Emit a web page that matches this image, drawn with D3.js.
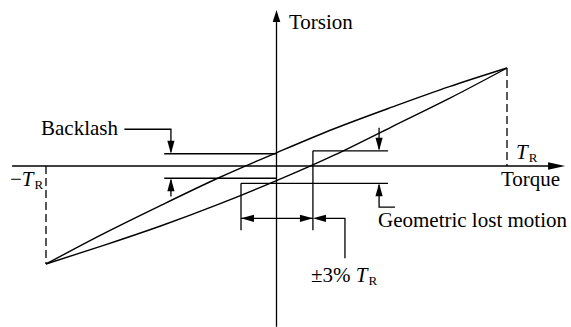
<!DOCTYPE html>
<html>
<head>
<meta charset="utf-8">
<script src="https://cdn.jsdelivr.net/npm/d3@7"></script>
<style>
  html, body { margin: 0; padding: 0; background: #fff; }
  svg text { font-family: "Liberation Serif", "Times New Roman", serif; fill: #000; }
</style>
</head>
<body>
<svg id="chart" width="571" height="327"></svg>
<script>
// Torque (normalised to rated torque T_R) and torsion (normalised to torsion at T_R)
const torque = [-1, -0.75, -0.5, -0.25, 0, 0.25, 0.5, 0.75, 1];
const torsionUpper = [-1, -0.69, -0.40, -0.12, 0.135, 0.38, 0.60, 0.81, 1];
const torsionLower = [-1, -0.81, -0.61, -0.39, -0.15, 0.11, 0.40, 0.69, 1];

// Reference levels and offsets used by the annotations (same normalised units)
const backlashLevels = [0.125, -0.125];
const lostMotionLevels = [0.155, -0.177];
const threePercentTorque = [-0.154, 0.158];

const labels = {
  yAxis: "Torsion",
  xAxis: "Torque",
  backlash: "Backlash",
  lostMotion: "Geometric lost motion",
  rated: "T",
  ratedSub: "R",
  percent: "±3% "
};

const svg = d3.select("#chart");
const x = d3.scaleLinear().domain([-1, 1]).range([46, 507]);
const y = d3.scaleLinear().domain([-1, 1]).range([264, 68]);

const g = svg.append("g").attr("fill", "none").attr("stroke", "#000").attr("stroke-width", 1.3);

function seg(x1, y1, x2, y2, extra) {
  const l = g.append("line")
    .attr("x1", x(x1)).attr("y1", y(y1))
    .attr("x2", x(x2)).attr("y2", y(y2));
  if (extra) extra(l);
  return l;
}
function poly(pts) {
  g.append("path").attr("d", d3.line().x(d => x(d[0])).y(d => y(d[1]))(pts));
}
// filled arrow head with its tip at (tx, ty) in data units, pointing along (dx, dy) in screen space
function head(tx, ty, dx, dy, len = 13, half = 3.6) {
  const px = x(tx), py = y(ty);
  const bx = px - dx * len, by = py - dy * len;
  const nx = -dy, ny = dx;
  svg.append("path")
    .attr("d", `M${px},${py}L${bx + nx * half},${by + ny * half}L${bx - nx * half},${by - ny * half}Z`)
    .attr("fill", "#000");
}

// axes
seg(-1.147, 0, 1.19, 0);
head(1.252, 0, 1, 0, 17, 3.8);
seg(0, -1.64, 0, 1.50);
head(0, 1.592, 0, -1, 12, 3.8);

// rated torque markers
seg(1, 1, 1, 0, l => l.attr("stroke-dasharray", "8,4"));
seg(-1, 0, -1, -1, l => l.attr("stroke-dasharray", "8,4"));

// hysteresis branches
const line = d3.line().x((d, i) => x(torque[i])).y(d => y(d)).curve(d3.curveNatural);
g.append("path").attr("d", line(torsionUpper)).attr("stroke-width", 1.4);
g.append("path").attr("d", line(torsionLower)).attr("stroke-width", 1.4);

// backlash
const bx = -0.458;
backlashLevels.forEach(v => seg(-0.487, v, 0, v));
poly([[-0.66, 0.375], [bx, 0.375], [bx, backlashLevels[0] + 0.02]]);
head(bx, backlashLevels[0], 0, 1);
seg(bx, -0.31, bx, backlashLevels[1] - 0.02);
head(bx, backlashLevels[1], 0, -1);

// geometric lost motion
const gx = 0.445;
seg(threePercentTorque[1], lostMotionLevels[0], 0.484, lostMotionLevels[0]);
seg(threePercentTorque[0], lostMotionLevels[1], 0.484, lostMotionLevels[1]);
seg(gx, 0.39, gx, lostMotionLevels[0] + 0.02);
head(gx, lostMotionLevels[0], 0, 1);
poly([[0.514, -0.42], [gx, -0.42], [gx, lostMotionLevels[1] - 0.02]]);
head(gx, lostMotionLevels[1], 0, -1);

// ±3% T_R band
const ay = -0.534;
seg(threePercentTorque[0], lostMotionLevels[1], threePercentTorque[0], -0.656);
seg(threePercentTorque[1], lostMotionLevels[0], threePercentTorque[1], -0.656);
seg(threePercentTorque[0], ay, threePercentTorque[1], ay);
head(threePercentTorque[0], ay, -1, 0);
head(threePercentTorque[1], ay, 1, 0);
poly([[threePercentTorque[1] + 0.02, ay], [0.297, ay], [0.297, -0.942]]);
head(threePercentTorque[1], ay, -1, 0);

// labels
const fs = 21, sub = 13;
svg.append("text").attr("x", 289).attr("y", 29).attr("font-size", fs).text(labels.yAxis);
svg.append("text").attr("x", 501).attr("y", 186).attr("font-size", fs).text(labels.xAxis);
svg.append("text").attr("x", 41).attr("y", 135).attr("font-size", fs).text(labels.backlash);
svg.append("text").attr("x", 378).attr("y", 227).attr("font-size", fs).text(labels.lostMotion);

function rated(tx, ty, prefix) {
  const t = svg.append("text").attr("x", tx).attr("y", ty).attr("font-size", fs);
  if (prefix) t.append("tspan").text(prefix);
  t.append("tspan").attr("font-style", "italic").text(labels.rated);
  t.append("tspan").attr("font-size", sub).attr("dx", 1).attr("dy", 3).text(labels.ratedSub);
}
rated(516, 159, null);
rated(10, 186, "\u2212");
rated(311, 282, labels.percent);
</script>
</body>
</html>
